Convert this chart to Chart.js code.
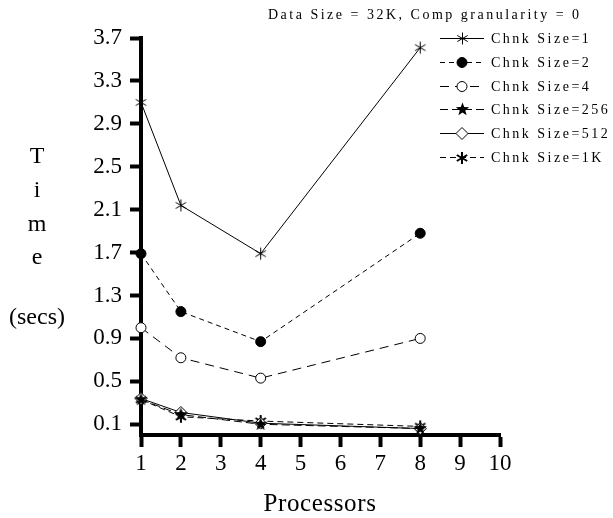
<!DOCTYPE html>
<html>
<head>
<meta charset="utf-8">
<script src="https://cdn.jsdelivr.net/npm/chart.js@4.4.1/dist/chart.umd.min.js"></script>
<style>
  html, body { margin: 0; padding: 0; background: #fff; }
  #wrap { position: relative; width: 613px; height: 518px; }
</style>
</head>
<body>
<div id="wrap"><canvas id="timeChart" width="613" height="518"></canvas></div>
<script>
// processor counts and run times (secs) per chunk size
const processors = [1, 2, 4, 8];
const chunk1 = [3.10, 2.14, 1.69, 3.61];
const chunk2 = [1.69, 1.15, 0.87, 1.88];
const chunk4 = [1.00, 0.72, 0.53, 0.90];
const chunk256 = [0.33, 0.19, 0.10, 0.06];
const chunk512 = [0.34, 0.21, 0.11, 0.06];
const chunk1K = [0.33, 0.17, 0.13, 0.08];

const seriesLabels = ["Chnk Size=1", "Chnk Size=2", "Chnk Size=4", "Chnk Size=256", "Chnk Size=512", "Chnk Size=1K"];
const yTicks = [0.1, 0.5, 0.9, 1.3, 1.7, 2.1, 2.5, 2.9, 3.3, 3.7];
const xTicks = [1, 2, 3, 4, 5, 6, 7, 8, 9, 10];

const chartTitle = "Data Size = 32K, Comp granularity = 0";
const yTitle = ["T", "i", "m", "e"];
const ySub = "(secs)";
const xTitle = "Processors";

const SERIF = '"Liberation Serif", "DejaVu Serif", serif';

// small canvas markers for the styles Chart.js doesn't have
function makeMarker(r, lw, draw) {
  const c = document.createElement("canvas");
  const s = Math.ceil(r * 2 + lw + 2);
  c.width = s;
  c.height = s;
  const g = c.getContext("2d");
  g.translate(s / 2, s / 2);
  g.strokeStyle = "#000";
  g.fillStyle = "#000";
  g.lineWidth = lw;
  draw(g, r);
  return c;
}

function asterisk(g, r) {
  g.beginPath();
  for (let i = 0; i < 3; i++) {
    const a = Math.PI / 2 + i * Math.PI / 3;
    g.moveTo(Math.cos(a) * r, Math.sin(a) * r);
    g.lineTo(-Math.cos(a) * r, -Math.sin(a) * r);
  }
  g.stroke();
}

function star(g, r) {
  g.beginPath();
  for (let i = 0; i < 10; i++) {
    const rr = i % 2 ? r * 0.42 : r;
    const a = -Math.PI / 2 + i * Math.PI / 5;
    g.lineTo(Math.cos(a) * rr, Math.sin(a) * rr);
  }
  g.closePath();
  g.fill();
}

const thinAsterisk = makeMarker(6, 1, asterisk);
const boldAsterisk = makeMarker(6, 2, asterisk);
const filledStar = makeMarker(7, 1, star);

function series(label, values, style) {
  return Object.assign({
    label: label,
    data: processors.map((p, i) => ({ x: p, y: values[i] })),
    borderColor: "#000",
    backgroundColor: "#000",
    borderWidth: 1,
    pointBorderColor: "#000",
    pointBorderWidth: 1,
    fill: false,
    tension: 0,
    clip: false
  }, style);
}

const datasets = [
  series(seriesLabels[0], chunk1, { borderDash: [], pointStyle: thinAsterisk, pointRadius: 6 }),
  series(seriesLabels[1], chunk2, { borderDash: [5, 4], pointStyle: "circle", pointRadius: 5, pointBackgroundColor: "#000" }),
  series(seriesLabels[2], chunk4, { borderDash: [9, 6], pointStyle: "circle", pointRadius: 5, pointBackgroundColor: "#fff" }),
  series(seriesLabels[3], chunk256, { borderDash: [8, 4], pointStyle: filledStar, pointRadius: 7 }),
  series(seriesLabels[4], chunk512, { borderDash: [], pointStyle: "rectRot", pointRadius: 6, pointBackgroundColor: "#fff" }),
  series(seriesLabels[5], chunk1K, { borderDash: [6, 4], pointStyle: boldAsterisk, pointRadius: 6 })
];

function drawMarker(ctx, ds, x, y) {
  const st = ds.pointStyle;
  if (st instanceof HTMLCanvasElement) {
    ctx.drawImage(st, Math.round(x - st.width / 2), Math.round(y - st.height / 2));
    return;
  }
  ctx.save();
  ctx.setLineDash([]);
  ctx.lineWidth = 1;
  ctx.strokeStyle = "#000";
  ctx.fillStyle = ds.pointBackgroundColor || "#000";
  const r = ds.pointRadius;
  ctx.beginPath();
  if (st === "circle") {
    ctx.arc(x, y, r, 0, Math.PI * 2);
  } else {
    ctx.moveTo(x, y - r);
    ctx.lineTo(x + r, y);
    ctx.lineTo(x, y + r);
    ctx.lineTo(x - r, y);
    ctx.closePath();
  }
  ctx.fill();
  ctx.stroke();
  ctx.restore();
}

// title, axis titles and the legend box in the top right
const decorations = {
  id: "decorations",
  afterDraw(chart) {
    const ctx = chart.ctx;
    ctx.save();
    ctx.fillStyle = "#000";
    ctx.textBaseline = "alphabetic";

    ctx.font = "14px " + SERIF;
    ctx.letterSpacing = "2.5px";
    ctx.textAlign = "left";
    ctx.fillText(chartTitle, 268, 19);

    ctx.letterSpacing = "0px";
    ctx.font = "24px " + SERIF;
    ctx.textAlign = "center";
    const base = [163, 197, 231, 264];
    yTitle.forEach((ch, i) => ctx.fillText(ch, 37, base[i]));
    ctx.fillText(ySub, 37, 324);

    ctx.font = "25px " + SERIF;
    ctx.letterSpacing = "0.6px";
    ctx.fillText(xTitle, 320, 511);

    // legend rows
    ctx.font = "14px " + SERIF;
    ctx.letterSpacing = "2.5px";
    ctx.textAlign = "left";
    ctx.textBaseline = "middle";
    chart.data.datasets.forEach((ds, i) => {
      const y = Math.round(38 + i * 23.8) + 0.5;
      ctx.save();
      ctx.strokeStyle = "#000";
      ctx.lineWidth = 1;
      ctx.setLineDash(ds.borderDash || []);
      ctx.beginPath();
      ctx.moveTo(440, y);
      ctx.lineTo(484, y);
      ctx.stroke();
      ctx.restore();
      drawMarker(ctx, ds, 462, y);
      ctx.fillText(ds.label, 491, y + 1);
    });
    ctx.restore();
  }
};

new Chart(document.getElementById("timeChart"), {
  type: "line",
  data: { datasets: datasets },
  options: {
    responsive: false,
    animation: false,
    devicePixelRatio: 1,
    layout: { padding: { left: 0, right: 113, top: 38, bottom: 0 } },
    plugins: {
      legend: { display: false },
      title: { display: false },
      tooltip: { enabled: false }
    },
    scales: {
      x: {
        type: "linear",
        min: 1,
        max: 10,
        afterBuildTicks: scale => { scale.ticks = xTicks.map(v => ({ value: v })); },
        afterFit: scale => { scale.height = 83; },
        ticks: { color: "#000", font: { family: SERIF, size: 23 }, padding: 3, maxRotation: 0 },
        grid: { drawOnChartArea: false, drawTicks: true, tickLength: 12, tickWidth: 4, tickColor: "#000" },
        border: { color: "#000", width: 4 }
      },
      y: {
        min: 0,
        max: 3.7,
        afterBuildTicks: scale => { scale.ticks = yTicks.map(v => ({ value: v })); },
        afterFit: scale => { scale.width = 141; },
        ticks: { color: "#000", font: { family: SERIF, size: 23 }, padding: 8, callback: v => v.toFixed(1) },
        grid: { drawOnChartArea: false, drawTicks: true, tickLength: 11, tickWidth: 4, tickColor: "#000" },
        border: { color: "#000", width: 4 }
      }
    }
  },
  plugins: [decorations]
});
</script>
</body>
</html>
